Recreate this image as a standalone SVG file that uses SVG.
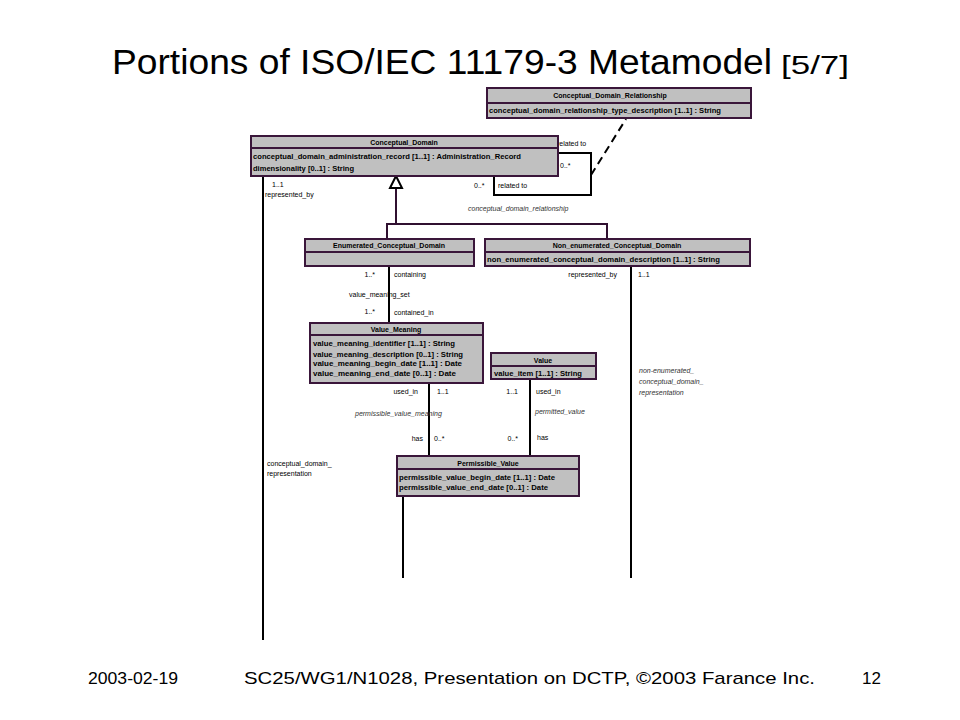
<svg xmlns="http://www.w3.org/2000/svg" width="960" height="720" viewBox="0 0 960 720">
<style>
.box{fill:#c0c0c0;stroke:#3a163a;stroke-width:2}
.div{stroke:#3a163a;stroke-width:2}
.bt{font-family:"Liberation Sans",Arial,sans-serif;font-size:7px;font-weight:bold;fill:#000}
.hd{text-anchor:middle}
.lb{font-family:"Liberation Sans",Arial,sans-serif;font-size:7px;fill:#000}
.it{font-style:italic;fill:#333}
.ln{fill:none;stroke:#000;stroke-width:2}
.gn{fill:none;stroke:#301030;stroke-width:2}
.title{font-family:"Liberation Sans",Arial,sans-serif;fill:#000}
</style>
<rect width="960" height="720" fill="#fff"/>
<text class="title" x="112" y="74" font-size="35" textLength="660" lengthAdjust="spacingAndGlyphs">Portions of ISO/IEC 11179-3 Metamodel</text>
<text class="title" x="781" y="74" font-size="26" textLength="68" lengthAdjust="spacingAndGlyphs">[5/7]</text>

<g id="connectors">
<path class="ln" d="M263,176 V640"/>
<path class="ln" d="M494,176 V195 H591 V153 H558"/>
<path class="ln" d="M591,175 L626,119" stroke-dasharray="8,5"/>
<path class="gn" d="M396,188 V224 M387,239 V224 H607 V239"/>
<polygon points="396,176 390,188 402,188" fill="#fff" stroke="#000" stroke-width="2"/>
<path class="ln" d="M389,266 V323"/>
<path class="ln" d="M631,266 V578"/>
<path class="ln" d="M429,383 V456"/>
<path class="ln" d="M530,379 V456"/>
<path class="ln" d="M403,496 V578"/>
</g>

<g id="labels">
<text class="lb" x="557" y="146">related to</text>
<text class="lb" x="560" y="168">0..*</text>
<text class="lb" x="474" y="188">0..*</text>
<text class="lb" x="498" y="188">related to</text>
<text class="lb it" x="468" y="211">conceptual_domain_relationship</text>
<text class="lb" x="272" y="187">1..1</text>
<text class="lb" x="265" y="197">represented_by</text>
<text class="lb" x="375" y="277" text-anchor="end">1..*</text>
<text class="lb" x="394" y="277">containing</text>
<text class="lb" x="349" y="297">value_meaning_set</text>
<text class="lb" x="375" y="314" text-anchor="end">1..*</text>
<text class="lb" x="394" y="315">contained_in</text>
<text class="lb" x="617" y="277" text-anchor="end">represented_by</text>
<text class="lb" x="638" y="277">1..1</text>
<text class="lb it" x="639" y="373">non-enumerated_</text>
<text class="lb it" x="639" y="384">conceptual_domain_</text>
<text class="lb it" x="639" y="395">representation</text>
<text class="lb" x="418" y="394" text-anchor="end">used_in</text>
<text class="lb" x="437" y="394">1..1</text>
<text class="lb it" x="355" y="416">permissible_value_meaning</text>
<text class="lb" x="423" y="441" text-anchor="end">has</text>
<text class="lb" x="434" y="441">0..*</text>
<text class="lb" x="518" y="394" text-anchor="end">1..1</text>
<text class="lb" x="536" y="394">used_in</text>
<text class="lb it" x="535" y="414">permitted_value</text>
<text class="lb" x="518" y="441" text-anchor="end">0..*</text>
<text class="lb" x="537" y="440">has</text>
<text class="lb" x="267" y="466">conceptual_domain_</text>
<text class="lb" x="267" y="476">representation</text>
</g>

<g id="n-cdr">
<rect class="box" x="487" y="88" width="264" height="30"/>
<line class="div" x1="487" y1="103" x2="751" y2="103"/>
<text class="bt hd" x="610" y="98">Conceptual_Domain_Relationship</text>
<text class="bt" x="489" y="113" textLength="232" lengthAdjust="spacingAndGlyphs">conceptual_domain_relationship_type_description [1..1] : String</text>
</g>

<g id="n-cd">
<rect class="box" x="251" y="136" width="307" height="40"/>
<line class="div" x1="251" y1="148" x2="558" y2="148"/>
<text class="bt hd" x="404" y="145">Conceptual_Domain</text>
<text class="bt" x="253" y="159" textLength="268" lengthAdjust="spacingAndGlyphs">conceptual_domain_administration_record [1..1] : Administration_Record</text>
<text class="bt" x="253" y="171" textLength="101" lengthAdjust="spacingAndGlyphs">dimensionality [0..1] : String</text>
</g>

<g id="n-ecd">
<rect class="box" x="305" y="239" width="169" height="27"/>
<line class="div" x1="305" y1="252" x2="474" y2="252"/>
<text class="bt hd" x="389" y="248">Enumerated_Conceptual_Domain</text>
</g>

<g id="n-necd">
<rect class="box" x="485" y="239" width="265" height="27"/>
<line class="div" x1="485" y1="252" x2="750" y2="252"/>
<text class="bt hd" x="617" y="248">Non_enumerated_Conceptual_Domain</text>
<text class="bt" x="487" y="262" textLength="233" lengthAdjust="spacingAndGlyphs">non_enumerated_conceptual_domain_description [1..1] : String</text>
</g>

<g id="n-vm">
<rect class="box" x="310" y="323" width="173" height="60"/>
<line class="div" x1="310" y1="335" x2="483" y2="335"/>
<text class="bt hd" x="396" y="332">Value_Meaning</text>
<text class="bt" x="313" y="346" textLength="142" lengthAdjust="spacingAndGlyphs">value_meaning_identifier [1..1] : String</text>
<text class="bt" x="313" y="357" textLength="150" lengthAdjust="spacingAndGlyphs">value_meaning_description [0..1] : String</text>
<text class="bt" x="313" y="366" textLength="149" lengthAdjust="spacingAndGlyphs">value_meaning_begin_date [1..1] : Date</text>
<text class="bt" x="313" y="376" textLength="143" lengthAdjust="spacingAndGlyphs">value_meaning_end_date [0..1] : Date</text>
</g>

<g id="n-value">
<rect class="box" x="491" y="353" width="105" height="26"/>
<line class="div" x1="491" y1="366" x2="596" y2="366"/>
<text class="bt hd" x="543" y="363">Value</text>
<text class="bt" x="494" y="376" textLength="88" lengthAdjust="spacingAndGlyphs">value_item [1..1] : String</text>
</g>

<g id="n-pv">
<rect class="box" x="397" y="456" width="182" height="40"/>
<line class="div" x1="397" y1="469" x2="579" y2="469"/>
<text class="bt hd" x="488" y="466">Permissible_Value</text>
<text class="bt" x="399" y="480" textLength="156" lengthAdjust="spacingAndGlyphs">permissible_value_begin_date [1..1] : Date</text>
<text class="bt" x="399" y="490" textLength="149" lengthAdjust="spacingAndGlyphs">permissible_value_end_date [0..1] : Date</text>
</g>

<g id="footer" font-family="'Liberation Sans',Arial,sans-serif" font-size="17" fill="#000">
<text x="88" y="684" textLength="90" lengthAdjust="spacingAndGlyphs">2003-02-19</text>
<text x="244" y="684" textLength="571" lengthAdjust="spacingAndGlyphs">SC25/WG1/N1028, Presentation on DCTP, ©2003 Farance Inc.</text>
<text x="862" y="684">12</text>
</g>
</svg>
